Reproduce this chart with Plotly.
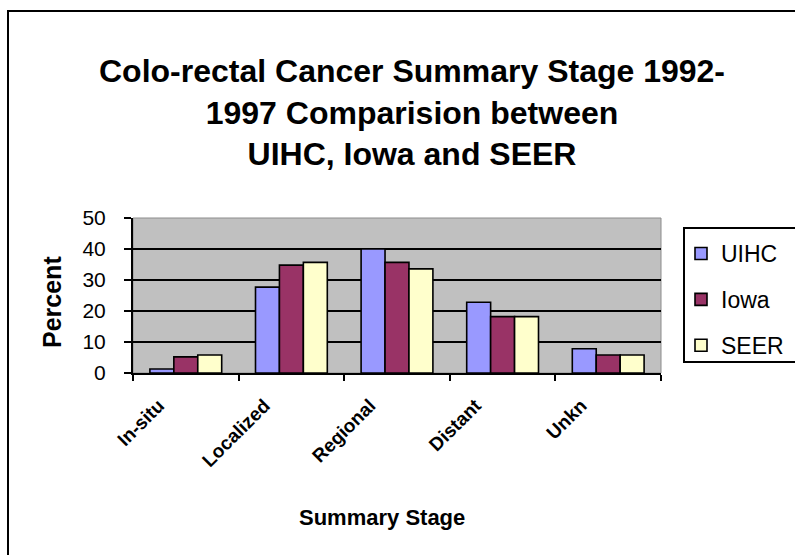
import plotly.graph_objects as go

categories = ["In-situ", "Localized", "Regional", "Distant", "Unkn"]
uihc = [1.3, 27.7, 40.0, 22.8, 7.8]
iowa = [5.2, 34.8, 35.7, 18.2, 5.8]
seer = [5.8, 35.7, 33.6, 18.2, 5.8]
series_names = ["UIHC", "Iowa", "SEER"]
series_colors = ["#9999FF", "#993366", "#FFFFCC"]
y_ticks = [0, 10, 20, 30, 40, 50]

W, H = 795, 555
L, R, T, B = 133, 661, 218, 373
PW, PH = R - L, B - T

def px_x(px):
    return (px - L) / PW

def px_y(py):
    return (B - py) / PH

fig = go.Figure()
for i, (name, vals, col) in enumerate(zip(series_names, [uihc, iowa, seer], series_colors)):
    fig.add_trace(go.Bar(
        x=categories, y=vals, name=name, legendgroup=name,
        marker=dict(color=col, line=dict(color="black", width=1.6)),
    ))

fig.update_layout(
    width=W, height=H,
    margin=dict(l=L, r=W - R, t=T, b=H - B, autoexpand=False),
    paper_bgcolor="white", plot_bgcolor="#C0C0C0",
    barmode="group", bargap=0.32, bargroupgap=0,
    font=dict(family="Arial, Liberation Sans, sans-serif", color="black"),
    title=dict(
        text="<b>Colo-rectal Cancer Summary Stage 1992-<br>1997 Comparision between<br>UIHC, Iowa and SEER</b>",
        x=412 / W, xanchor="center", y=1 - 82 / H, yanchor="middle",
        font=dict(size=32, family="Arial, Liberation Sans, sans-serif", color="black"),
    ),
    legend=dict(
        x=px_x(681), y=px_y(232), xanchor="left", yanchor="top",
        font=dict(size=23, family="Arial, Liberation Sans, sans-serif"),
        bgcolor="rgba(0,0,0,0)", borderwidth=0, tracegroupgap=13,
    ),
    showlegend=True,
)

fig.update_yaxes(
    range=[0, 50], tickvals=y_ticks, ticktext=[str(v) for v in y_ticks],
    showgrid=True, gridcolor="black", gridwidth=2,
    showline=True, linecolor="black", linewidth=2,
    ticks="outside", ticklen=7, tickwidth=2, tickcolor="black",
    zeroline=False, tickfont=dict(size=21), ticklabelstandoff=14,
)
fig.update_xaxes(
    showline=True, linecolor="black", linewidth=2,
    ticks="outside", ticklen=6, tickwidth=2, tickcolor="black",
    tickson="boundaries", tickangle=-45,
    tickfont=dict(size=19, family="Arial, Liberation Sans, sans-serif", weight="bold"),
    ticklabelshift=-27, ticklabelstandoff=12,
)

# axis titles
fig.add_annotation(text="<b>Percent</b>", xref="paper", yref="paper",
                   x=px_x(52), y=px_y(302), textangle=-90, showarrow=False,
                   font=dict(size=25), xanchor="center", yanchor="middle")
fig.add_annotation(text="<b>Summary Stage</b>", xref="paper", yref="paper",
                   x=px_x(382), y=px_y(517), showarrow=False,
                   font=dict(size=22), xanchor="center", yanchor="middle")

# plot-area top/right edge (grey)
fig.add_shape(type="rect", xref="paper", yref="paper", x0=0, x1=1, y0=0, y1=1,
              line=dict(color="#8C8C8C", width=1), layer="below")
# legend box
fig.add_shape(type="rect", xref="paper", yref="paper",
              x0=px_x(684), x1=px_x(900), y0=px_y(362), y1=px_y(228),
              line=dict(color="black", width=2), fillcolor="white", layer="below")
# outer chart border
fig.add_shape(type="rect", xref="paper", yref="paper",
              x0=px_x(8), x1=px_x(900), y0=px_y(700), y1=px_y(11),
              line=dict(color="black", width=2), fillcolor="rgba(0,0,0,0)")

fig.write_html(
    "out.html",
    config={"displayModeBar": False},
    post_script="document.body.style.margin='0';document.body.style.overflow='hidden';",
)
